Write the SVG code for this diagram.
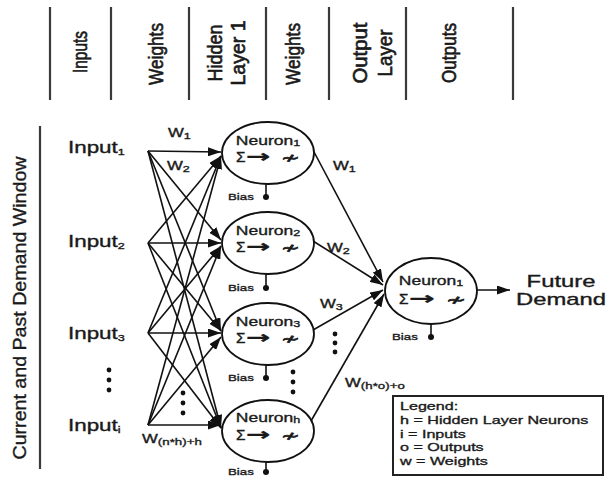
<svg xmlns="http://www.w3.org/2000/svg" width="611" height="478" viewBox="0 0 611 478">
  <style>
    text { font-family: "Liberation Sans", Arial, "DejaVu Sans", sans-serif; fill: #1a1a1a; stroke: #1a1a1a; stroke-width: 0.35px; }
    .hdr { font-size: 16px; text-anchor: middle; stroke-width: 0.5px; }
    .inp { font-size: 16px; }
    .nt { font-size: 12.5px; text-anchor: middle; }
    .fn { font-size: 14px; }
    .arr { font-family: "DejaVu Sans", sans-serif; font-size: 17px; font-weight: bold; }
    .sym { font-family: "DejaVu Sans", sans-serif; font-size: 15px; stroke-width: 0.7px; }
    .bias { font-size: 9.5px; }
    .wt { font-size: 12px; }
    .sub { font-size: 9px; }
    .leg { font-size: 11.5px; }
    .sep { stroke: #3a3a3a; stroke-width: 2.2; }
    .cell { fill: #fff; stroke: #111; stroke-width: 1.8; }
    .wire { stroke: #111; stroke-width: 1.6; fill: none; marker-end: url(#ah); }
    .stem { stroke: #111; stroke-width: 1.6; }
    .dot { fill: #111; }
  </style>
  <defs>
    <marker id="ah" markerUnits="userSpaceOnUse" markerWidth="13" markerHeight="9" refX="13" refY="4.5" orient="auto">
      <path d="M0,0 L13,4.5 L0,9 z" fill="#111"/>
    </marker>
  </defs>
  <rect width="611" height="478" fill="#fff"/>

  <!-- column header -->
  <g id="header">
    <line class="sep" x1="50" y1="7" x2="50" y2="100"/>
    <line class="sep" x1="111" y1="7" x2="111" y2="100"/>
    <line class="sep" x1="189" y1="7" x2="189" y2="100"/>
    <line class="sep" x1="266" y1="7" x2="266" y2="100"/>
    <line class="sep" x1="329" y1="7" x2="329" y2="100"/>
    <line class="sep" x1="406" y1="7" x2="406" y2="100"/>
    <line class="sep" x1="513" y1="7" x2="513" y2="100"/>
    <text class="hdr" transform="translate(87,52) scale(1.3,1) rotate(-90)" textLength="42" lengthAdjust="spacingAndGlyphs">Inputs</text>
    <text class="hdr" transform="translate(163,54) scale(1.3,1) rotate(-90)" textLength="62" lengthAdjust="spacingAndGlyphs">Weights</text>
    <text class="hdr" transform="translate(222,53) scale(1.3,1) rotate(-90)" textLength="57" lengthAdjust="spacingAndGlyphs">Hidden</text>
    <text class="hdr" transform="translate(245,53) scale(1.3,1) rotate(-90)" textLength="65" lengthAdjust="spacingAndGlyphs">Layer 1</text>
    <text class="hdr" transform="translate(300,54) scale(1.3,1) rotate(-90)" textLength="62" lengthAdjust="spacingAndGlyphs">Weights</text>
    <text class="hdr" transform="translate(367,53) scale(1.3,1) rotate(-90)" textLength="61" lengthAdjust="spacingAndGlyphs">Output</text>
    <text class="hdr" transform="translate(392,53) scale(1.3,1) rotate(-90)" textLength="47" lengthAdjust="spacingAndGlyphs">Layer</text>
    <text class="hdr" transform="translate(456,53) scale(1.3,1) rotate(-90)" textLength="60" lengthAdjust="spacingAndGlyphs">Outputs</text>
  </g>

  <!-- window label -->
  <g id="window">
    <line class="sep" x1="40" y1="126" x2="40" y2="469"/>
    <text transform="translate(26,308) rotate(-90)" style="font-size:18px;text-anchor:middle" textLength="303" lengthAdjust="spacingAndGlyphs">Current and Past Demand Window</text>
  </g>

  <!-- connectors -->
  <g id="connectors">
    <line class="wire" x1="148" y1="151" x2="221" y2="152"/>
    <line class="wire" x1="148" y1="151" x2="221" y2="240"/>
    <line class="wire" x1="148" y1="151" x2="221" y2="331"/>
    <line class="wire" x1="148" y1="151" x2="221" y2="428"/>
    <line class="wire" x1="148" y1="243" x2="221" y2="156"/>
    <line class="wire" x1="148" y1="243" x2="221" y2="243"/>
    <line class="wire" x1="148" y1="243" x2="221" y2="331"/>
    <line class="wire" x1="148" y1="243" x2="221" y2="428"/>
    <line class="wire" x1="148" y1="333" x2="221" y2="156"/>
    <line class="wire" x1="148" y1="333" x2="221" y2="246"/>
    <line class="wire" x1="148" y1="333" x2="221" y2="333"/>
    <line class="wire" x1="148" y1="333" x2="221" y2="428"/>
    <line class="wire" x1="148" y1="425" x2="221" y2="156"/>
    <line class="wire" x1="148" y1="425" x2="221" y2="246"/>
    <line class="wire" x1="148" y1="425" x2="221" y2="337"/>
    <line class="wire" x1="148" y1="425" x2="221" y2="425"/>
    <line class="wire" x1="313" y1="150" x2="383" y2="282"/>
    <line class="wire" x1="313" y1="241" x2="383" y2="285"/>
    <line class="wire" x1="313" y1="330" x2="383" y2="290"/>
    <line class="wire" x1="311" y1="421" x2="384" y2="294"/>
    <line class="wire" x1="477" y1="290" x2="510" y2="290"/>
  </g>

  <!-- inputs -->
  <g id="input-1"><text class="inp" transform="translate(68,153) scale(1.4,1)">Input<tspan class="sub" dy="2">1</tspan></text></g>
  <g id="input-2"><text class="inp" transform="translate(68,247) scale(1.4,1)">Input<tspan class="sub" dy="2">2</tspan></text></g>
  <g id="input-3"><text class="inp" transform="translate(68,339) scale(1.4,1)">Input<tspan class="sub" dy="2">3</tspan></text></g>
  <g id="input-more">
    <circle class="dot" cx="109" cy="370" r="2.4"/>
    <circle class="dot" cx="109" cy="380" r="2.4"/>
    <circle class="dot" cx="109" cy="390" r="2.4"/>
  </g>
  <g id="input-i"><text class="inp" transform="translate(68,431) scale(1.4,1)">Input<tspan class="sub" dy="2">i</tspan></text></g>

  <!-- input weights -->
  <g id="weights-in">
    <text class="wt" transform="translate(168,137) scale(1.4,1)">W<tspan class="sub" dy="2">1</tspan></text>
    <text class="wt" transform="translate(167,170) scale(1.4,1)">W<tspan class="sub" dy="2">2</tspan></text>
    <circle class="dot" cx="183" cy="393" r="2.4"/>
    <circle class="dot" cx="183" cy="403" r="2.4"/>
    <circle class="dot" cx="183" cy="413" r="2.4"/>
    <text class="wt" transform="translate(142,443) scale(1.4,1)">W<tspan style="font-size:9.5px" dy="2">(n*h)+h</tspan></text>
  </g>

  <!-- hidden layer -->
  <g id="hidden-1">
    <ellipse class="cell" cx="268" cy="153" rx="46" ry="31"/>
    <text class="nt" transform="translate(268,145) scale(1.4,1)">Neuron<tspan class="sub" dy="1">1</tspan></text>
    <text class="fn" transform="translate(236,162) scale(1.1,1)">Σ</text>
    <text class="arr" transform="translate(246,162) scale(1.7,1)">→</text>
    <text class="sym" transform="translate(281,163) scale(1.5,1)">≁</text>
    <line class="stem" x1="266" y1="184" x2="266" y2="197"/>
    <circle class="dot" cx="266" cy="197" r="3"/>
    <text class="bias" transform="translate(228,200) scale(1.4,1)">Bias</text>
  </g>
  <g id="hidden-2">
    <ellipse class="cell" cx="268" cy="243" rx="46" ry="31"/>
    <text class="nt" transform="translate(268,235) scale(1.4,1)">Neuron<tspan class="sub" dy="1">2</tspan></text>
    <text class="fn" transform="translate(236,252) scale(1.1,1)">Σ</text>
    <text class="arr" transform="translate(246,252) scale(1.7,1)">→</text>
    <text class="sym" transform="translate(281,253) scale(1.5,1)">≁</text>
    <line class="stem" x1="266" y1="274" x2="266" y2="288"/>
    <circle class="dot" cx="266" cy="288" r="3"/>
    <text class="bias" transform="translate(228,291) scale(1.4,1)">Bias</text>
  </g>
  <g id="hidden-3">
    <ellipse class="cell" cx="268" cy="334" rx="46" ry="31"/>
    <text class="nt" transform="translate(268,326) scale(1.4,1)">Neuron<tspan class="sub" dy="1">3</tspan></text>
    <text class="fn" transform="translate(236,343) scale(1.1,1)">Σ</text>
    <text class="arr" transform="translate(246,343) scale(1.7,1)">→</text>
    <text class="sym" transform="translate(281,344) scale(1.5,1)">≁</text>
    <line class="stem" x1="266" y1="365" x2="266" y2="378"/>
    <circle class="dot" cx="266" cy="378" r="3"/>
    <text class="bias" transform="translate(228,381) scale(1.4,1)">Bias</text>
  </g>
  <g id="hidden-more">
    <circle class="dot" cx="293" cy="372" r="2.4"/>
    <circle class="dot" cx="293" cy="382" r="2.4"/>
    <circle class="dot" cx="293" cy="392" r="2.4"/>
  </g>
  <g id="hidden-h">
    <ellipse class="cell" cx="268" cy="431" rx="46" ry="31"/>
    <text class="nt" transform="translate(268,422) scale(1.4,1)">Neuron<tspan class="sub" dy="1">h</tspan></text>
    <text class="fn" transform="translate(236,440) scale(1.1,1)">Σ</text>
    <text class="arr" transform="translate(246,440) scale(1.7,1)">→</text>
    <text class="sym" transform="translate(281,441) scale(1.5,1)">≁</text>
    <line class="stem" x1="266" y1="462" x2="266" y2="472"/>
    <circle class="dot" cx="266" cy="472" r="3"/>
    <text class="bias" transform="translate(228,475) scale(1.4,1)">Bias</text>
  </g>

  <!-- output weights -->
  <g id="weights-out">
    <text class="wt" transform="translate(333,170) scale(1.4,1)">W<tspan class="sub" dy="2">1</tspan></text>
    <text class="wt" transform="translate(327,252) scale(1.4,1)">W<tspan class="sub" dy="2">2</tspan></text>
    <text class="wt" transform="translate(320,308) scale(1.4,1)">W<tspan class="sub" dy="2">3</tspan></text>
    <circle class="dot" cx="335" cy="334" r="2.4"/>
    <circle class="dot" cx="335" cy="343" r="2.4"/>
    <circle class="dot" cx="335" cy="352" r="2.4"/>
    <text class="wt" transform="translate(345,387) scale(1.4,1)">W<tspan style="font-size:9.5px" dy="2">(h*o)+o</tspan></text>
  </g>

  <!-- output layer -->
  <g id="output-1">
    <ellipse class="cell" cx="431" cy="291" rx="46" ry="33"/>
    <text class="nt" transform="translate(431,285) scale(1.4,1)">Neuron<tspan class="sub" dy="1">1</tspan></text>
    <text class="fn" transform="translate(399,304) scale(1.1,1)">Σ</text>
    <text class="arr" transform="translate(409,304) scale(1.8,1)">→</text>
    <text class="sym" transform="translate(446,305) scale(1.6,1)">≁</text>
    <line class="stem" x1="431" y1="324" x2="431" y2="337"/>
    <circle class="dot" cx="431" cy="337" r="3"/>
    <text class="bias" transform="translate(392,340) scale(1.4,1)">Bias</text>
  </g>

  <g id="future-demand">
    <text style="font-size:17px;text-anchor:middle" transform="translate(561,287) scale(1.4,1)">Future</text>
    <text style="font-size:17px;text-anchor:middle" transform="translate(561,305) scale(1.4,1)">Demand</text>
  </g>

  <!-- legend -->
  <g id="legend">
    <rect x="393" y="396" width="210" height="79" fill="#fff" stroke="#222" stroke-width="2"/>
    <text class="leg" transform="translate(400,410) scale(1.4,1)">Legend:</text>
    <text class="leg" transform="translate(400,424) scale(1.4,1)">h = Hidden Layer Neurons</text>
    <text class="leg" transform="translate(400,438) scale(1.4,1)">i = Inputs</text>
    <text class="leg" transform="translate(400,451) scale(1.4,1)">o = Outputs</text>
    <text class="leg" transform="translate(400,465) scale(1.4,1)">w = Weights</text>
  </g>
</svg>
